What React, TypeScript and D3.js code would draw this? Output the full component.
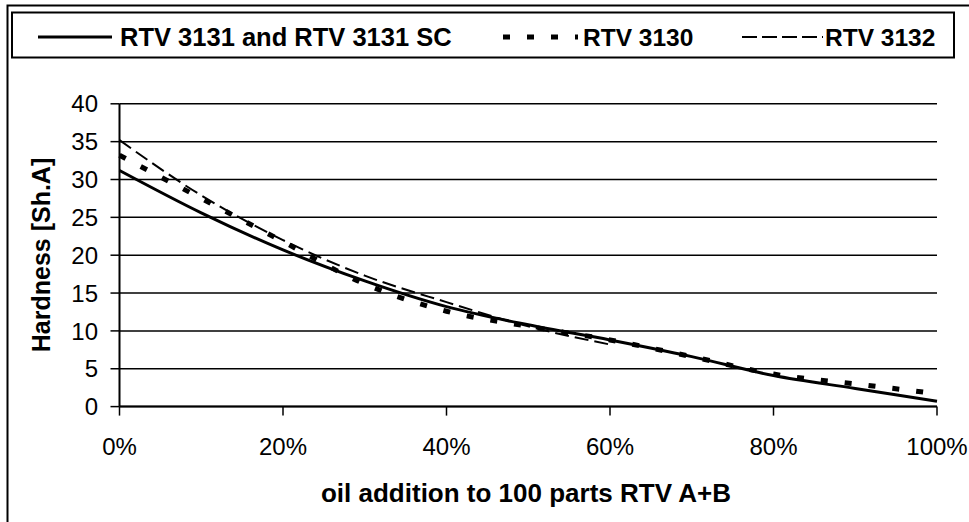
import * as d3 from "d3";

// oil addition, % of 100 parts RTV A+B
const oilPct = [0, 10, 20, 30, 40, 50, 60, 70, 80, 90, 100];
const rtv3131 = [31.2, 25.6, 20.7, 16.6, 13.2, 10.8, 8.8, 6.6, 4.1, 2.4, 0.7];
const rtv3130 = [33.2, 27.5, 21.8, 16.2, 12.6, 10.6, 8.8, 6.6, 4.3, 3.0, 1.7];
const oilPct3132 = [0, 10, 20, 30, 40, 50, 60];
const rtv3132 = [35.2, 27.9, 22.0, 17.3, 13.8, 10.6, 8.2];

const xTicks = [0, 20, 40, 60, 80, 100];
const yTicks = [0, 5, 10, 15, 20, 25, 30, 35, 40];

const legendLabels = ["RTV 3131 and RTV 3131 SC", "RTV 3130", "RTV 3132"];

const W = 969;
const H = 522;
const FONT = "'Liberation Sans', Arial, sans-serif";

export default function App() {
  const x = d3.scaleLinear().domain([0, 100]).range([119.5, 937]);
  const y = d3.scaleLinear().domain([0, 40]).range([406.6, 103.8]);

  const line = d3
    .line<[number, number]>()
    .x((d) => x(d[0]))
    .y((d) => y(d[1]))
    .curve(d3.curveMonotoneX);

  const zip = (xs: number[], ys: number[]) =>
    xs.map((v, i) => [v, ys[i]] as [number, number]);

  return (
    <svg
      width={W}
      height={H}
      viewBox={`0 0 ${W} ${H}`}
      style={{ position: "absolute", left: 0, top: 0, background: "#fff" }}
      fontFamily={FONT}
    >
      {/* outer frame */}
      <rect x={7.5} y={5.5} width={1000} height={600} fill="none" stroke="#000" strokeWidth={2} />

      {/* legend */}
      <rect x={12} y={12.5} width={942} height={45} fill="#fff" stroke="#000" strokeWidth={2} />
      <line x1={38} x2={112} y1={37} y2={37} stroke="#000" strokeWidth={3} />
      <text x={120} y={45.5} fontSize={25.5} fontWeight="bold">{legendLabels[0]}</text>
      <line x1={503} x2={578} y1={37} y2={37} stroke="#000" strokeWidth={5} strokeDasharray="7 17" />
      <text x={583} y={45.5} fontSize={24.5} fontWeight="bold">{legendLabels[1]}</text>
      <line x1={742} x2={823} y1={37} y2={37} stroke="#000" strokeWidth={2} strokeDasharray="15 5" />
      <text x={825} y={45.5} fontSize={24.5} fontWeight="bold">{legendLabels[2]}</text>

      {/* gridlines */}
      {yTicks.map((t) => (
        <line key={"g" + t} x1={x(0)} x2={x(100)} y1={y(t)} y2={y(t)} stroke="#000" strokeWidth={1.5} />
      ))}

      {/* y axis */}
      <line x1={x(0)} x2={x(0)} y1={y(40)} y2={y(0)} stroke="#000" strokeWidth={2} />
      {yTicks.map((t) => (
        <g key={"y" + t}>
          <line x1={x(0) - 9} x2={x(0)} y1={y(t)} y2={y(t)} stroke="#000" strokeWidth={1.5} />
          <text x={98} y={y(t)} dy="0.36em" textAnchor="end" fontSize={24}>{t}</text>
        </g>
      ))}

      {/* x axis */}
      <line x1={x(0)} x2={x(100)} y1={y(0)} y2={y(0)} stroke="#000" strokeWidth={2} />
      {xTicks.map((t) => (
        <g key={"x" + t}>
          <line x1={x(t)} x2={x(t)} y1={y(0)} y2={y(0) + 9} stroke="#000" strokeWidth={1.5} />
          <text x={x(t)} y={455} textAnchor="middle" fontSize={24}>{t + "%"}</text>
        </g>
      ))}

      {/* series */}
      <path d={line(zip(oilPct3132, rtv3132)) || ""} fill="none" stroke="#000" strokeWidth={2} strokeDasharray="14 6" />
      <path d={line(zip(oilPct, rtv3130)) || ""} fill="none" stroke="#000" strokeWidth={5} strokeDasharray="7 17" />
      <path d={line(zip(oilPct, rtv3131)) || ""} fill="none" stroke="#000" strokeWidth={3} />

      {/* axis titles */}
      <text x={526} y={502} textAnchor="middle" fontSize={26} fontWeight="bold">
        oil addition to 100 parts RTV A+B
      </text>
      <text
        transform={`translate(50, 255) rotate(-90)`}
        textAnchor="middle"
        fontSize={25}
        fontWeight="bold"
      >
        Hardness [Sh.A]
      </text>
    </svg>
  );
}
